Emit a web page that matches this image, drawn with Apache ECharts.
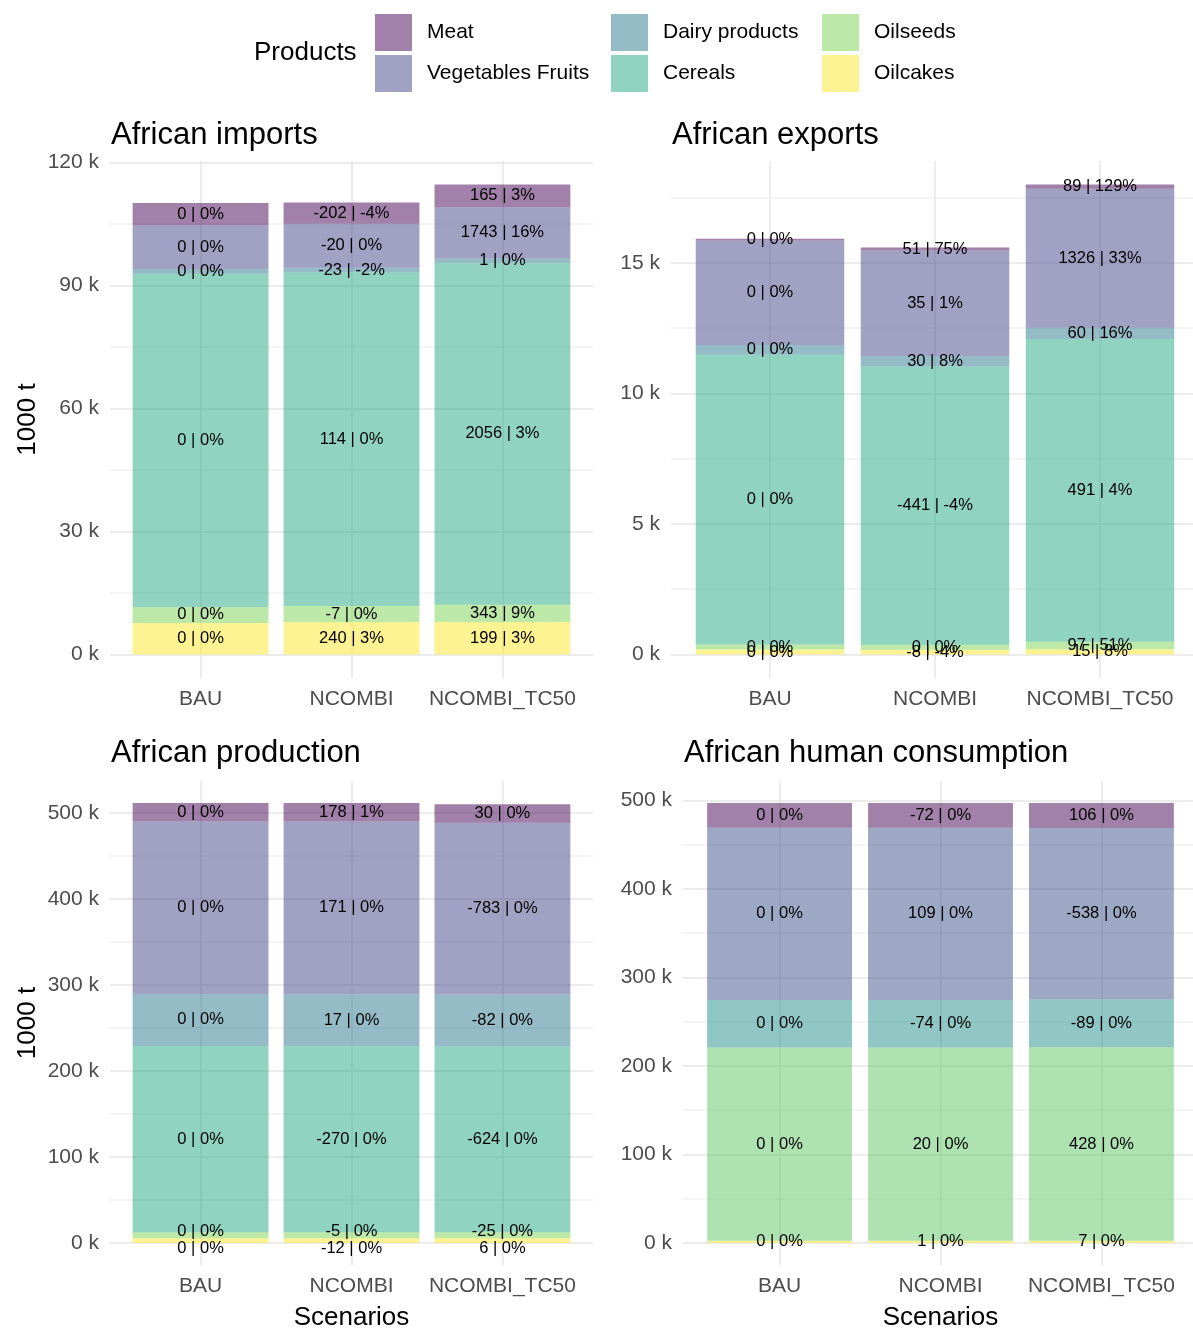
<!DOCTYPE html>
<html>
<head>
<meta charset="utf-8">
<script src="https://cdn.jsdelivr.net/npm/echarts@6/dist/echarts.min.js"></script>
<style>
html, body { margin: 0; padding: 0; background: #fff; }
#main { width: 1193px; height: 1329px; }
</style>
</head>
<body>
<div id="main"></div>
<script>
var scenarios = ['BAU', 'NCOMBI', 'NCOMBI_TC50'];
// stack order, bottom first
var products = ['Oilcakes', 'Oilseeds', 'Cereals', 'Dairy products', 'Vegetables Fruits', 'Meat'];
var consProducts = ['Oilseeds', 'Cereals', 'Dairy products', 'Vegetables Fruits', 'Meat'];

// values in 1000 t, one row per product, one column per scenario
var importsValues = [[7700, 7940, 7899], [3900, 3893, 4243], [81300, 81414, 83356], [1150, 1127, 1151], [10700, 10680, 12443], [5400, 5198, 5565]];
var importsDiff = [[0, 240, 199], [0, -7, 343], [0, 114, 2056], [0, -23, 1], [0, -20, 1743], [0, -202, 165]];
var importsPct = [[0, 3, 3], [0, 0, 9], [0, 0, 3], [0, -2, 0], [0, 0, 16], [0, -4, 3]];

var exportsValues = [[190, 182, 205], [190, 190, 287], [11100, 10659, 11591], [375, 405, 435], [4000, 4035, 5326], [69, 120, 158]];
var exportsDiff = [[0, -8, 15], [0, 0, 97], [0, -441, 491], [0, 30, 60], [0, 35, 1326], [0, 51, 89]];
var exportsPct = [[0, -4, 8], [0, 0, 51], [0, -4, 4], [0, 8, 16], [0, 1, 33], [0, 75, 129]];

var prodValues = [[5500, 5488, 5506], [7000, 6995, 6975], [216500, 216230, 215876], [60500, 60517, 60418], [200500, 200671, 199717], [21300, 21478, 21330]];
var prodDiff = [[0, -12, 6], [0, -5, -25], [0, -270, -624], [0, 17, -82], [0, 171, -783], [0, 178, 30]];
var prodPct = [[0, 0, 0], [0, 0, 0], [0, 0, 0], [0, 0, 0], [0, 0, 0], [0, 1, 0]];

var consValues = [[2600, 2601, 2607], [218100, 218120, 218528], [53900, 53826, 53811], [194400, 194509, 193862], [28000, 27928, 28106]];
var consDiff = [[0, 1, 7], [0, 20, 428], [0, -74, -89], [0, 109, -538], [0, -72, 106]];
var consPct = [[0, 0, 0], [0, 0, 0], [0, 0, 0], [0, 0, 0], [0, 0, 0]];

// viridis, alpha 0.5
var viridis6 = ['rgba(253,231,37,0.5)', 'rgba(122,209,81,0.5)', 'rgba(34,168,132,0.5)', 'rgba(42,120,142,0.5)', 'rgba(65,68,135,0.5)', 'rgba(68,1,84,0.5)'];
var viridis5 = ['rgba(253,231,37,0.5)', 'rgba(93,200,99,0.5)', 'rgba(33,144,140,0.5)', 'rgba(59,82,139,0.5)', 'rgba(68,1,84,0.5)'];

var font = 'Liberation Sans, Arial, sans-serif';

var panels = [
    {title: 'African imports', names: products, values: importsValues, diff: importsDiff, pct: importsPct, colors: viridis6,
     step: 30000, grid: {left: 110, top: 161, width: 483, height: 517}, titlePos: [111, 120], yName: '1000 t', xName: ''},
    {title: 'African exports', names: products, values: exportsValues, diff: exportsDiff, pct: exportsPct, colors: viridis6,
     step: 5000, grid: {left: 671, top: 161, width: 528, height: 517}, titlePos: [672, 120], yName: '', xName: ''},
    {title: 'African production', names: products, values: prodValues, diff: prodDiff, pct: prodPct, colors: viridis6,
     step: 100000, grid: {left: 110, top: 781, width: 483, height: 484}, titlePos: [111, 738], yName: '1000 t', xName: 'Scenarios',
     shift: {Oilseeds: -4, Oilcakes: 8}},
    {title: 'African human consumption', names: consProducts, values: consValues, diff: consDiff, pct: consPct, colors: viridis5,
     step: 100000, grid: {left: 683, top: 781, width: 515, height: 484}, titlePos: [684, 738], yName: '', xName: 'Scenarios'}
];

var chart = echarts.init(document.getElementById('main'));

var titles = [{text: 'Products', left: 254, top: 40, padding: 0,
    textStyle: {fontSize: 26, fontWeight: 'normal', color: '#000', fontFamily: font}}];
var grids = [], xAxes = [], yAxes = [], series = [];

panels.forEach(function (p, k) {
    var totals = scenarios.map(function (s, j) {
        return p.values.reduce(function (a, row) { return a + row[j]; }, 0);
    });
    var top = Math.max.apply(null, totals);

    titles.push({text: p.title, left: p.titlePos[0], top: p.titlePos[1], padding: 0,
        textStyle: {fontSize: 31, fontWeight: 'normal', color: '#000', fontFamily: font}});
    grids.push(Object.assign({outerBoundsMode: 'none', containLabel: false}, p.grid));

    xAxes.push({
        type: 'value', gridIndex: k, min: 0.4, max: 3.6, minInterval: 1, maxInterval: 1, splitNumber: 3,
        axisLine: {show: false}, axisTick: {show: false},
        axisLabel: {margin: 11, fontSize: 21, color: '#4d4d4d', fontFamily: font, showMinLabel: false, showMaxLabel: false,
            formatter: function (v) {
                var r = Math.round(v);
                return Math.abs(v - r) < 1e-6 && scenarios[r - 1] ? scenarios[r - 1] : '';
            }},
        splitLine: {show: true, showMinLine: false, showMaxLine: false, lineStyle: {color: '#e6e6e6', width: 1.5}},
        name: p.xName, nameLocation: 'middle', nameGap: 40,
        nameTextStyle: {fontSize: 26, color: '#000', fontFamily: font}
    });

    yAxes.push({
        type: 'value', gridIndex: k, min: -0.05 * top, max: 1.05 * top,
        minInterval: p.step / 2, maxInterval: p.step / 2,
        axisLine: {show: false}, axisTick: {show: false},
        axisLabel: {margin: 11, fontSize: 21, color: '#4d4d4d', fontFamily: font, showMinLabel: false, showMaxLabel: false,
            formatter: function (v) {
                return Math.abs(v % p.step) < 1e-6 ? (v / 1000) + ' k' : '';
            }},
        splitLine: {show: true, showMinLine: false, showMaxLine: false, lineStyle: {color: ['#e6e6e6', '#f1f1f1'], width: 1.5}},
        name: p.yName, nameLocation: 'middle', nameGap: 69,
        nameTextStyle: {fontSize: 26, color: '#000', fontFamily: font}
    });

    p.names.forEach(function (name, i) {
        series.push({
            type: 'bar', name: name, xAxisIndex: k, yAxisIndex: k, stack: 'panel' + k, barWidth: '90%',
            // value first so that it is the stacked dimension
            data: p.values[i].map(function (v, j) { return [v, j + 1]; }),
            encode: {x: 1, y: 0},
            itemStyle: {color: p.colors[i]},
            label: {show: true, position: 'inside', color: '#000', fontSize: 16.5, fontFamily: font,
                offset: [0, (p.shift && p.shift[name]) || 0],
                formatter: function (d) { return p.diff[i][d.dataIndex] + ' | ' + p.pct[i][d.dataIndex] + '%'; }},
            emphasis: {disabled: true}
        });
    });
});

var legendCols = [['Meat', 'Vegetables Fruits'], ['Dairy products', 'Cereals'], ['Oilseeds', 'Oilcakes']];
var legendLeft = [375, 611, 822];

chart.setOption({
    animation: false,
    backgroundColor: '#fff',
    title: titles,
    legend: legendCols.map(function (c, i) {
        return {data: c, orient: 'vertical', left: legendLeft[i], top: 14, padding: 0,
            itemWidth: 37, itemHeight: 37, itemGap: 4, icon: 'rect', selectedMode: false,
            textStyle: {fontSize: 21, color: '#000', fontFamily: font, padding: [0, 0, 0, 10]}};
    }),
    grid: grids,
    xAxis: xAxes,
    yAxis: yAxes,
    series: series
});
</script>
</body>
</html>
